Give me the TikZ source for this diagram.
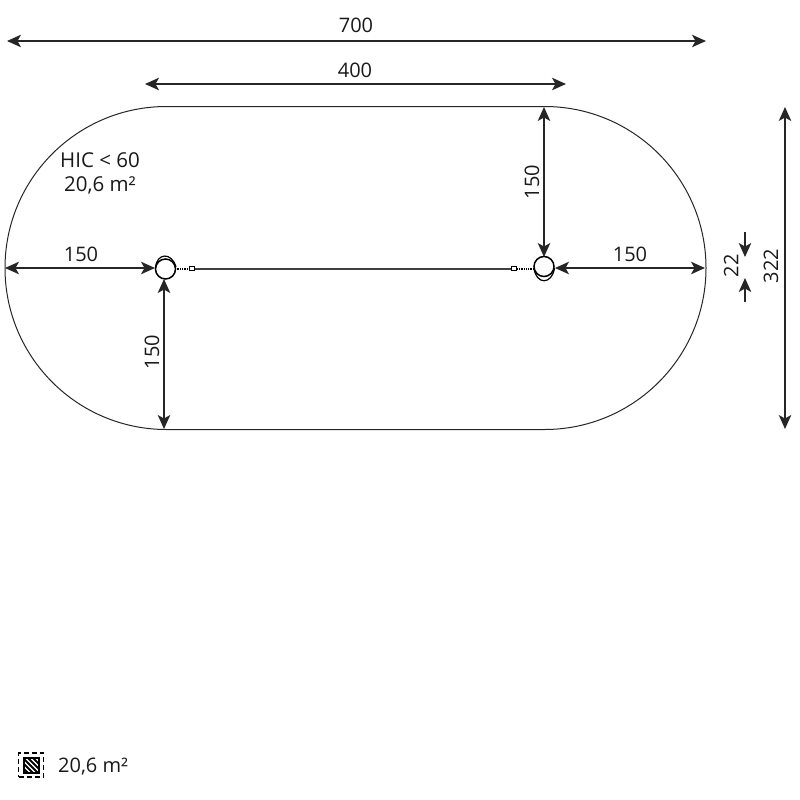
\documentclass[tikz,border=0pt]{standalone}
\usepackage{fontspec}
\setmainfont{Open Sans}
\usetikzlibrary{arrows.meta,patterns}
\tikzset{
 dim/.style={line width=1.3pt,draw=black!85,{Stealth[length=14pt,width=12.5pt,inset=3.5pt]}-{Stealth[length=14pt,width=12.5pt,inset=3.5pt]}},
 oneway/.style={line width=1.3pt,draw=black!85,-{Stealth[length=14pt,width=12.5pt,inset=3.5pt]}},
 lab/.style={font=\fontsize{20}{24}\selectfont,text=black!90,inner sep=0pt,align=center},
 swing/.style={circle,draw,line width=1.5pt,minimum size=20pt,inner sep=0pt,fill=white},
 link/.style={draw,line width=.9pt,fill=white,minimum width=5.5pt,minimum height=4pt,inner sep=0pt},
 chain/.style={line width=2pt,dash pattern=on 1.3pt off 1pt},
}
\begin{document}
\begin{tikzpicture}[x=1pt,y=-1pt]
\useasboundingbox (0,0) rectangle (800,800);
% safety surface
\draw[line width=1pt,draw=black!85] (166.5,106.5) -- (544.5,106.5) arc[start angle=-90,end angle=90,radius=161.5] -- (166.5,429.5) arc[start angle=90,end angle=270,radius=161.5] -- cycle;
% swings and rope
\draw[line width=2.2pt,draw=black!75] (192,268.8) -- (514,268.8);
\draw[chain] (175,269) -- (189,269);
\draw[chain] (534,269) -- (517,269);
\node[link] (linkL) at (192,268.8) {};
\node[link] (linkR) at (514,268.8) {};
\node[swing] (postL) at (165.5,269) {};
\node[swing] (postR) at (544,266.5) {};
\draw[line width=1.2pt] (155.5,268) .. controls (156.5,252.5) and (172,252) .. (176,267);
\draw[line width=1.2pt] (534,268) .. controls (536,285) and (552,285) .. (554.5,268);
% dimension end points
\coordinate (a1) at (7,41); \coordinate (a2) at (706,41);
\coordinate (b1) at (145,84); \coordinate (b2) at (566,84);
\coordinate (c1) at (544,107); \coordinate (c2) at (544,257);
\coordinate (d1) at (5,268); \coordinate (d2) at (155,268);
\coordinate (e1) at (164,279); \coordinate (e2) at (164,429);
\coordinate (f1) at (555,268); \coordinate (f2) at (705,268);
\coordinate (g1) at (785,107); \coordinate (g2) at (785,429);
\coordinate (h1) at (745,232); \coordinate (h2) at (745,257);
\coordinate (i1) at (745,302); \coordinate (i2) at (745,278);
\draw[dim] (a1) -- (a2);
\draw[dim] (b1) -- (b2);
\draw[dim] (c1) -- (c2);
\draw[dim] (d1) -- (d2);
\draw[dim] (e1) -- (e2);
\draw[dim] (f1) -- (f2);
\draw[dim] (g1) -- (g2);
\draw[oneway] (h1) -- (h2);
\draw[oneway] (i1) -- (i2);
% labels
\node[lab] (t700) at (356,25) {700};
\node[lab] (t400) at (355,70) {400};
\node[lab] (t150a) at (81,254) {150};
\node[lab] (t150b) at (630,254) {150};
\node[lab,rotate=90] (t150c) at (532,182) {150};
\node[lab,rotate=90] (t150d) at (152,352) {150};
\node[lab,rotate=90] (t22) at (731,266) {22};
\node[lab,rotate=90] (t322) at (771,266) {322};
\node[lab,font=\fontsize{20.5}{24}\selectfont] (hic) at (100,173.5) {HIC < 60\\20,6 m²};
\node[lab,anchor=west] (area) at (58,767) {20,6 m²};
% legend icon
\node[draw,line width=1.4pt,dash pattern=on 5pt off 3pt,minimum width=25pt,minimum height=24pt,inner sep=0pt] (iconOut) at (31,765) {};
\begin{scope}
\clip (24,758) rectangle (39,773);
\foreach \k in {-16,-11,...,16} \draw[line width=1.8pt] (24+\k,758) -- (39+\k,773);
\end{scope}
\node[draw,line width=1.4pt,minimum size=15pt,inner sep=0pt] (iconIn) at (31.5,765.5) {};
\end{tikzpicture}
\end{document}
